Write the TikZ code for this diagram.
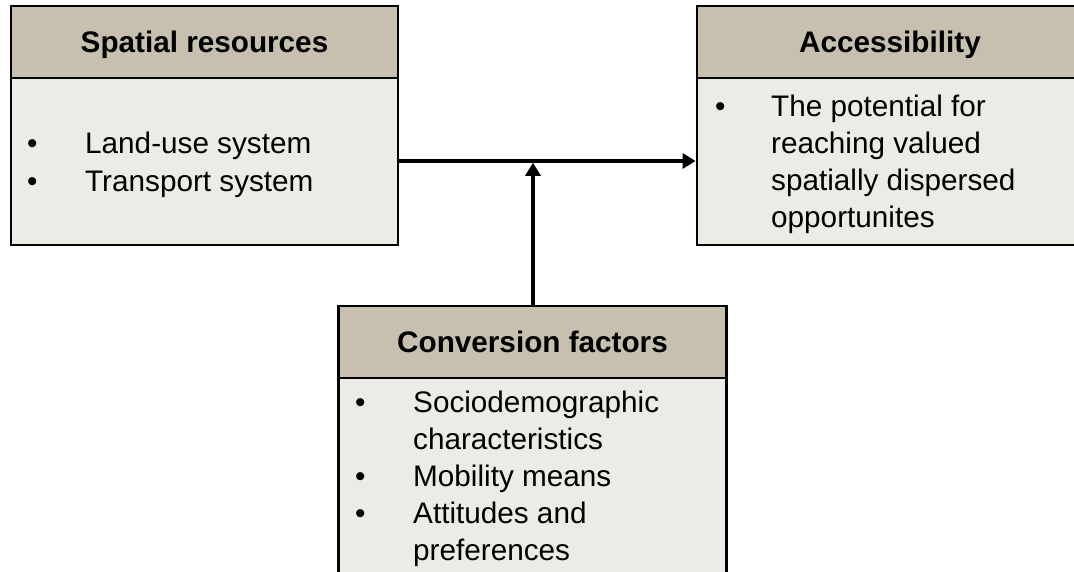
\documentclass[tikz,border=0pt]{standalone}
\usepackage{fontspec}
\setmainfont{Liberation Sans}
\usetikzlibrary{arrows.meta}
\definecolor{headfill}{HTML}{C8C0AF}
\definecolor{bodyfill}{HTML}{EDEBE6}
\tikzset{
  headbox/.style={draw=black, line width=2.8pt, fill=headfill, rectangle, inner sep=0pt},
  bodybox/.style={draw=black, line width=2.8pt, fill=bodyfill, rectangle, inner sep=0pt},
  headtxt/.style={anchor=base, inner sep=0pt, font=\fontsize{29.7}{37}\selectfont\bfseries},
  bodytxt/.style={anchor=base west, inner sep=0pt, font=\fontsize{29.7}{37}\selectfont},
  conn/.style={line width=3.2pt, -{Triangle[length=13pt,width=15pt]}},
}
\begin{document}
\begin{tikzpicture}[x=1pt,y=-1pt]
\useasboundingbox (0,0) rectangle (1074,572);
\fill[white] (0,0) rectangle (1074,572);
\clip (0,0) rectangle (1074,572);
% Spatial resources
\node[bodybox, minimum width=387pt, minimum height=167pt] (b1) at (204.5,161.5) {};
\node[headbox, minimum width=387pt, minimum height=72pt] (h1) at (204.5,42) {};
\node[headtxt] (h1t) at (204.5,53) {Spatial resources};
\node[bodytxt] (b1a) at (27,154) {•};
\node[bodytxt] (b1at) at (85,154) {Land-use system};
\node[bodytxt] (b1b) at (27,192) {•};
\node[bodytxt] (b1bt) at (85,192) {Transport system};
% Accessibility
\node[bodybox, minimum width=390pt, minimum height=167pt] (b2) at (892,161.5) {};
\node[headbox, minimum width=390pt, minimum height=72pt] (h2) at (892,42) {};
\node[headtxt] (h2t) at (890,53) {Accessibility};
\node[bodytxt] (b2a) at (715,117) {•};
\node[bodytxt] (b2t1) at (771,117) {The potential for};
\node[bodytxt] (b2t2) at (771,154) {reaching valued};
\node[bodytxt] (b2t3) at (771,191) {spatially dispersed};
\node[bodytxt] (b2t4) at (771,228) {opportunites};
% Conversion factors
\node[bodybox, minimum width=388pt, minimum height=230pt] (b3) at (532.5,493) {};
\node[headbox, minimum width=388pt, minimum height=72pt] (h3) at (532.5,342) {};
\node[headtxt] (h3t) at (532.5,352) {Conversion factors};
\node[bodytxt] (b3a) at (355,412) {•};
\node[bodytxt] (b3at) at (413,412) {Sociodemographic};
\node[bodytxt] (b3at2) at (413,449) {characteristics};
\node[bodytxt] (b3b) at (355,486) {•};
\node[bodytxt] (b3bt) at (413,486) {Mobility means};
\node[bodytxt] (b3c) at (355,523) {•};
\node[bodytxt] (b3ct) at (413,523) {Attitudes and};
\node[bodytxt] (b3ct2) at (413,560) {preferences};
% connectors
\coordinate (join) at (533,161);
\draw[conn] (b1.east |- join) -- (b2.west |- join);
\draw[conn] (h3.north -| join) -- ([yshift=-1.8pt]join);
\end{tikzpicture}
\end{document}
